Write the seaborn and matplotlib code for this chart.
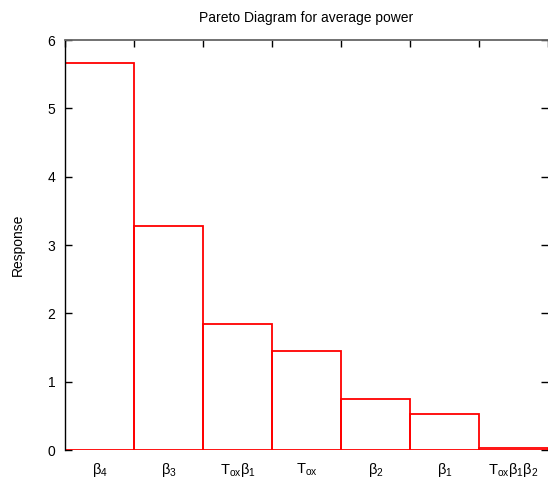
import matplotlib
matplotlib.use("Agg")
import matplotlib.pyplot as plt
import seaborn as sns
import pandas as pd

categories = [r"$\mathregular{β_4}$", r"$\mathregular{β_3}$", r"$\mathregular{T_{ox}β_1}$",
              r"$\mathregular{T_{ox}}$", r"$\mathregular{β_2}$", r"$\mathregular{β_1}$",
              r"$\mathregular{T_{ox}β_1β_2}$"]
values = [5.67, 3.28, 1.85, 1.45, 0.75, 0.52, 0.03]
yticks = [0, 1, 2, 3, 4, 5, 6]

sns.set_style("white")
plt.rcParams["font.family"] = ["Liberation Sans", "DejaVu Sans"]
plt.rcParams["mathtext.fontset"] = "custom"
plt.rcParams["mathtext.rm"] = "Liberation Sans"
plt.rcParams["mathtext.default"] = "regular"
plt.rcParams["text.color"] = "black"
plt.rcParams["axes.labelcolor"] = "black"
plt.rcParams["xtick.color"] = "black"
plt.rcParams["ytick.color"] = "black"

df = pd.DataFrame({"cat": categories, "val": values})

fig = plt.figure(figsize=(5.48, 4.87), dpi=100)
ax = fig.add_axes([65/548, 1-450/487, 1-65/548, (450-40)/487])
sns.barplot(data=df, x="cat", y="val", ax=ax, fill=False, color="red",
            width=1.0, linewidth=1.3, edgecolor="red")
ax.set_xlim(-0.5, len(categories)-0.5)
ax.set_ylim(0, 6)
ax.set_yticks(yticks)
ax.set_xlabel("")
ax.set_ylabel("Response", fontsize=10, labelpad=16, color="black")
ax.set_title("Pareto Diagram for average power", fontsize=10, pad=13, color="black")

for s in ["bottom", "right"]:
    ax.spines[s].set_visible(False)
ax.spines["left"].set_color("black")
ax.spines["left"].set_linewidth(1.0)
ax.spines["top"].set_color("#666666")
ax.spines["top"].set_linewidth(1.3)

ax.tick_params(axis="x", which="major", length=0, labelsize=10.5, pad=8, labelcolor="black")
ax.tick_params(axis="y", which="major", direction="in", length=5, width=1,
               left=True, right=True, labelsize=10, color="black", pad=7, labelcolor="black")
edges = [i - 0.5 for i in range(len(categories) + 1)]
ax.set_xticks(edges, minor=True)
ax.tick_params(axis="x", which="minor", direction="in", length=5, width=1,
               top=True, bottom=False, color="black")
for t in ax.yaxis.get_ticklines()[1::2]:
    t.set_color("#555555")

fig.savefig("out.png", dpi=100)
